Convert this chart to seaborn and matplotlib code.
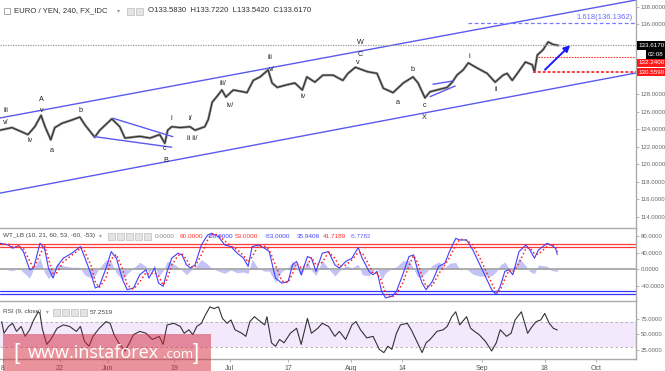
# EUR/JPY 4h chart with wave counts, WT_LB oscillator and RSI

import numpy as np
import pandas as pd
import seaborn as sns
import matplotlib.pyplot as plt
from matplotlib.patches import Rectangle
from matplotlib.ticker import FormatStrFormatter
import matplotlib.transforms as mtrans

# x is counted in trading days from 8 May
price_x = [-0.5, 1.6, 3.0, 4.4, 5.6, 6.7, 7.4, 8.4, 9.1, 10.4,
           11.8, 13.5, 14.4, 16.1, 17.0, 19.1, 20.5, 21.4, 24.0, 25.8,
           27.5, 28.4, 28.9, 29.6, 31.1, 32.8, 33.7, 35.4, 36.0, 36.7,
           37.7, 38.4, 39.1, 40.4, 42.1, 42.8, 43.9, 45.1, 46.5, 47.2,
           48.1, 49.8, 51.2, 52.5, 53.3, 54.7, 56.1, 57.9, 59.6, 60.5,
           61.8, 63.9, 65.6, 66.7, 67.4, 68.4, 70.2, 71.9, 72.8, 74.0,
           74.9, 76.1, 77.9, 78.8, 79.6, 80.7, 81.6, 83.2, 84.9, 86.3,
           87.7, 88.4, 89.3, 90.2, 91.6, 92.8, 93.2, 93.7, 94.7, 95.6,
           96.5, 97.4]
price = [123.9, 124.2, 123.8, 123.4, 124.3, 125.6, 124.3, 122.8, 124.2, 124.7,
         125.0, 125.4, 124.5, 123.1, 123.9, 125.2, 124.3, 123.0, 123.2, 123.0,
         123.4, 122.4, 123.9, 124.3, 124.2, 124.3, 123.9, 124.3, 125.1, 127.1,
         127.9, 128.5, 127.7, 128.5, 128.3, 128.2, 129.6, 130.0, 130.8, 129.3,
         128.8, 129.1, 129.3, 128.5, 130.0, 129.4, 130.2, 130.2, 129.6, 130.4,
         131.1, 130.6, 130.4, 128.7, 128.5, 128.2, 129.3, 130.0, 129.3, 127.6,
         128.3, 128.5, 128.8, 129.4, 130.2, 130.8, 131.6, 131.0, 130.4, 129.4,
         130.2, 130.4, 129.6, 130.4, 131.7, 131.4, 130.6, 132.5, 133.1, 134.0,
         133.7, 133.6]

wt_x = [-0.5, 1.0, 1.7, 2.8, 3.6, 4.7, 5.4, 6.5, 7.3, 8.0,
        8.8, 9.5, 10.6, 12.1, 13.2, 13.6, 14.3, 15.5, 16.2, 16.9,
        18.1, 19.0, 19.9, 21.0, 21.8, 22.9, 24.0, 25.1, 25.6, 26.6,
        27.3, 28.1, 28.8, 29.6, 30.7, 31.4, 32.2, 32.9, 33.7, 34.8,
        35.9, 36.6, 37.8, 38.9, 40.0, 41.1, 42.2, 43.0, 43.7, 44.8,
        45.9, 46.7, 47.8, 48.9, 50.0, 50.8, 51.5, 52.3, 53.4, 54.1,
        54.9, 56.0, 57.1, 58.2, 59.0, 60.1, 61.2, 62.3, 63.0, 64.2,
        64.9, 65.6, 66.4, 67.1, 68.2, 69.0, 70.1, 71.2, 72.0, 72.7,
        73.5, 74.2, 75.3, 76.4, 77.5, 78.3, 79.4, 80.1, 81.3, 82.4,
        83.5, 84.6, 85.7, 86.5, 87.2, 88.0, 88.7, 89.4, 90.5, 91.7,
        92.4, 93.2, 93.9, 95.4, 96.1, 96.9, 97.2]
wt1 = [62.5, 58.5, 50.6, 57.0, 42.6, -1.0, 3.0, 62.5, 50.6, 3.0,
       -21.0, 7.0, 26.7, 38.7, 50.6, 54.5, 30.7, -13.0, -44.8, -40.8,
       3.0, 42.6, 26.7, -25.0, -48.8, -44.8, -13.0, -1.0, -21.0, 3.0,
       -33.0, -40.8, -5.0, 26.7, 38.7, 34.7, 10.8, 3.0, 10.8, 58.5,
       82.4, 86.4, 78.4, 58.5, 54.5, 38.7, 26.7, 7.0, 54.5, 58.5,
       50.6, 42.6, -21.0, -33.0, -29.0, 10.8, 18.8, -13.0, 30.7, 26.7,
       -5.0, 38.7, 42.6, 10.8, 3.0, 18.8, 26.7, 52.2, 26.7, -5.0,
       -13.0, -5.0, -52.7, -68.6, -64.6, -52.7, -13.0, 30.7, 34.7, -1.0,
       -33.0, -48.8, -29.0, 7.0, 14.8, 42.6, 74.4, 70.5, 70.5, 46.6,
       14.8, -17.0, -48.8, -60.7, -40.8, -5.0, -1.0, -13.0, 42.6, 58.5,
       46.6, 26.7, 46.6, 62.5, 58.5, 50.6, 35.9]
wt2 = [60, 60, 54, 54, 50, 20, 2, 35, 58, 25,
       -10, -8, 18, 34, 45, 52, 44, 8, -30, -44,
       -20, 25, 36, 0, -38, -48, -30, -8, -12, -8,
       -16, -38, -24, 10, 33, 37, 24, 6, 6, 35,
       70, 84, 83, 68, 56, 47, 33, 17, 30, 57,
       55, 47, 10, -28, -32, -10, 15, 3, 10, 29,
       10, 17, 41, 27, 7, 10, 23, 40, 40, 10,
       -9, -9, -28, -60, -67, -59, -33, 9, 33, 17,
       -17, -41, -39, -11, 11, 28, 58, 72, 70, 58,
       31, -1, -33, -55, -51, -23, -3, -7, 15, 50,
       52, 37, 36, 55, 61, 55, 41.7]

rsi_x = [-0.2, 0.2, 1.0, 1.7, 2.4, 3.2, 3.9, 4.7, 5.4, 6.2,
         6.5, 6.9, 7.7, 8.4, 9.5, 10.6, 11.7, 12.9, 13.6, 14.3,
         15.1, 15.8, 16.9, 18.1, 18.8, 19.5, 20.3, 21.4, 22.2, 22.9,
         24.0, 25.1, 26.2, 27.4, 28.1, 28.8, 30.0, 31.1, 31.8, 32.6,
         33.3, 34.0, 34.8, 35.5, 36.3, 37.0, 37.8, 38.5, 39.3, 40.0,
         40.7, 41.9, 42.6, 43.3, 44.1, 44.8, 45.9, 46.3, 47.1, 47.8,
         48.5, 49.3, 50.4, 51.5, 52.3, 53.4, 54.1, 55.2, 56.0, 57.1,
         58.2, 59.0, 60.1, 61.2, 61.9, 62.7, 63.8, 64.9, 66.0, 66.8,
         67.5, 68.2, 69.0, 69.7, 70.9, 71.6, 72.7, 73.5, 74.2, 74.9,
         76.1, 77.2, 77.9, 78.7, 79.4, 80.1, 81.3, 82.0, 82.7, 83.5,
         84.6, 85.7, 86.5, 87.2, 88.3, 89.1, 89.8, 90.9, 92.0, 92.8,
         93.5, 94.3, 95.0, 95.8, 96.5, 97.2]
rsi = [70.8, 52, 63, 68, 55, 63, 47, 57.6, 73.4, 86.6,
       84, 60, 34, 42, 60, 65.5, 63, 55, 63, 39,
       31, 47, 60, 70.8, 68, 49.7, 36.6, 23.4, 36.6, 49.7,
       55, 52, 42, 47, 34, 65.5, 68, 63, 52, 57.6,
       49.7, 63, 68, 81.3, 94.5, 91.8, 94.5, 76, 68, 73.4,
       57.6, 52, 47, 70.8, 78.7, 73.4, 65.5, 78.7, 36.6, 31,
       42, 36.6, 52, 60, 34, 76, 52, 60, 68, 63,
       47, 55, 42, 65.5, 70.8, 57.6, 44.5, 47, 26, 20.8,
       31, 26, 52, 65.5, 68, 57.6, 36.6, 20.8, 36.6, 42,
       55, 57.6, 63, 78.7, 86.6, 65.5, 78.7, 60, 55, 49.7,
       39, 23.4, 36.6, 57.6, 47, 52, 73.4, 86.6, 52, 63,
       70.8, 73.4, 84, 68, 60, 57.3]

date_ticks = [0, 10, 18.4, 30, 39.8, 50, 61, 70, 84, 95, 104]
date_labels = ['8', '22', 'Jun', '19', 'Jul', '17', 'Aug', '14', 'Sep', '18', 'Oct']

# drawn trendlines (start/end points)
chan_x = [-0.5, 111.0]
chan_upper = [125.3, 138.8]
chan_lower = [116.7, 130.45]
wedge_top_x, wedge_top = [19.3, 29.8], [125.27, 123.16]
wedge_bot_x, wedge_bot = [16.1, 29.6], [123.16, 121.95]
tri_top_x, tri_top = [75.4, 78.9], [129.16, 129.53]
tri_bot_x, tri_bot = [74.9, 79.3], [127.74, 128.96]
last_price = 133.617
fib_level = 136.1362
support_1 = 132.24
support_2 = 130.559

wave_labels = [("iii", 0.5, 126.2), ("v/", 0.5, 124.8), ("iv", 4.7, 122.7),
               ("A", 6.8, 127.4), ("v", 6.8, 126.2), ("a", 8.6, 121.6),
               ("b", 13.7, 126.1), ("i", 29.5, 125.2), ("i/", 32.8, 125.2),
               ("ii ii/", 33.2, 123.0), ("c", 28.4, 121.8), ("B", 28.6, 120.4),
               ("iii/", 38.6, 129.3), ("iv/", 39.8, 126.7), ("iii", 46.8, 132.2),
               ("v/", 47.2, 130.9), ("iv", 52.6, 127.8), ("W", 62.6, 133.9),
               ("C", 62.6, 132.6), ("v", 62.3, 131.7), ("a", 69.3, 127.1),
               ("b", 71.9, 130.8), ("c", 73.9, 126.7), ("X", 73.9, 125.4),
               ("i", 81.8, 132.3), ("ii", 86.5, 128.6)]

sns.set_style("white")
plt.rcParams['font.family'] = ['Liberation Sans', 'DejaVu Sans']

W, H = 665, 371
fig = plt.figure(figsize=(W / 100, H / 100), dpi=100)
right = 636 / W
ax_p = fig.add_axes([0, 143 / H, right, 228 / H])
ax_w = fig.add_axes([0, 70 / H, right, 73 / H], sharex=ax_p)
ax_r = fig.add_axes([0, 12 / H, right, 58 / H], sharex=ax_p)

blue = '#5a5af0'
red = '#ff3b3b'

# price panel
sns.lineplot(x=price_x, y=price, ax=ax_p, color='#8c8c8c', lw=1.8)
sns.lineplot(x=price_x, y=price, ax=ax_p, color='#2a2a2a', lw=0.7)
for xs, ys in [(chan_x, chan_upper), (chan_x, chan_lower), (wedge_top_x, wedge_top),
               (wedge_bot_x, wedge_bot), (tri_top_x, tri_top), (tri_bot_x, tri_bot)]:
    ax_p.plot(xs, ys, color=blue, lw=1.0)
ax_p.axhline(last_price, color='#999999', lw=0.9, ls=(0, (1, 1)))
ax_p.plot([81.6, 111], [fib_level, fib_level], color='#7777ff', lw=0.9, ls=(0, (3, 2)))
ax_p.text(110.4, fib_level + 0.25, '1.618(136.1362)', color='#6b6bff', fontsize=5.5,
          ha='right', va='bottom')
ax_p.plot([93.8, 111], [support_1, support_1], color=red, lw=0.8, ls=(0, (1.5, 1)))
ax_p.plot([93.0, 111], [support_2, support_2], color=red, lw=1.4, ls=(0, (1.5, 1)))
ax_p.annotate('', xy=(99.8, 133.85), xytext=(94.7, 130.6),
              arrowprops=dict(arrowstyle='-|>', color='#1a1aff', lw=1.4, mutation_scale=9))
for txt, x, y in wave_labels:
    ax_p.text(x, y, txt, fontsize=5.2, ha='center', va='center', color='#222222')

ax_p.set_ylim(112.71, 138.8)
ax_p.set_yticks([114, 116, 118, 120, 122, 124, 126, 128, 136, 138])
ax_p.yaxis.set_major_formatter(FormatStrFormatter('%.4f'))

# right axis price boxes
btr = mtrans.blended_transform_factory(ax_p.transAxes, ax_p.transData)
for txt, y, fc, xo in [('133.6170', 133.617, 'black', 1.004), ('02:08', 132.58, 'black', 1.018),
                       ('132.2400', 131.6, '#ff1a1a', 1.004), ('130.5590', 130.56, '#ff1a1a', 1.004)]:
    ax_p.text(xo, y, txt, transform=btr, fontsize=4.5, color='white', ha='left', va='center',
              bbox=dict(facecolor=fc, edgecolor='none', pad=1.3))

# WT_LB panel
hist = np.array(wt1) - np.array(wt2)
ax_w.fill_between(wt_x, 0, hist, color='#aaaaf5', alpha=0.7, lw=0)
ax_w.axhline(0, color='#a0a0a0', lw=1.2)
for lev in [60, 53]:
    ax_w.axhline(lev, color=red, lw=0.9)
for lev in [-53, -60]:
    ax_w.axhline(lev, color='#3535ff', lw=0.9)
sns.lineplot(x=wt_x, y=wt1, ax=ax_w, color='#4040ff', lw=0.8)
sns.lineplot(x=wt_x, y=wt2, ax=ax_w, color='#ff2020', lw=1.1, ls=':')
ax_w.set_ylim(-76, 99.2)
ax_w.set_yticks([-40, 0, 40, 80])
ax_w.yaxis.set_major_formatter(FormatStrFormatter('%.4f'))

# RSI panel
ax_r.axhspan(30, 70, color='#f4e8fd', lw=0)
for lev in [70, 30]:
    ax_r.axhline(lev, color='#aaaaaa', lw=0.6, ls=(0, (3, 3)))
sns.lineplot(x=rsi_x, y=rsi, ax=ax_r, color='#333333', lw=0.8)
ax_r.set_ylim(10.5, 104)
ax_r.set_yticks([25, 50, 75])
ax_r.yaxis.set_major_formatter(FormatStrFormatter('%.4f'))

ax_r.set_xlim(-0.5, 111)
ax_r.set_xticks(date_ticks)
ax_r.set_xticklabels(date_labels)

for ax in [ax_p, ax_w, ax_r]:
    ax.set_xlabel('')
    ax.set_ylabel('')
    ax.yaxis.tick_right()
    ax.tick_params(axis='y', labelsize=4.3, labelcolor='#666666', length=2, pad=1.5,
                   color='#999999', width=0.5, right=True, left=False)
    ax.tick_params(axis='x', labelsize=5, labelcolor='#555555', length=2, pad=2,
                   color='#999999', width=0.5, bottom=True)
    for s in ['top', 'left']:
        ax.spines[s].set_visible(False)
    for s in ['right', 'bottom']:
        ax.spines[s].set_color('#aaaaaa')
        ax.spines[s].set_linewidth(1.0)
    ax.set_facecolor('none')
for ax in [ax_p, ax_w]:
    ax.tick_params(axis='x', labelbottom=False, bottom=False)

# header texts
def icon(x, y):
    fig.patches.append(Rectangle((x / W, 1 - (y + 3.5) / H), 7 / W, 7 / H, transform=fig.transFigure,
                                 facecolor='#e4e4e4', edgecolor='#bdbdbd', lw=0.5))

fig.patches.append(Rectangle((4 / W, 1 - 14 / H), 6 / W, 6 / H, transform=fig.transFigure,
                             facecolor='white', edgecolor='#888888', lw=0.5))
fig.text(14 / W, 1 - 11 / H, 'EURO / YEN, 240, FX_IDC', fontsize=5.6, color='#333333', va='center')
fig.text(117 / W, 1 - 11 / H, '▾', fontsize=4.5, color='#999999', va='center')
icon(127, 11)
icon(136, 11)
fig.text(148 / W, 1 - 11 / H, 'O133.5830  H133.7220  L133.5420  C133.6170', fontsize=5.6,
         color='#333333', va='center')

fig.text(3 / W, 1 - 236 / H, 'WT_LB (10, 21, 60, 53, -60, -53)', fontsize=4.6, color='#444444', va='center')
fig.text(99 / W, 1 - 236 / H, '▾', fontsize=4, color='#999999', va='center')
for xi in [108, 117, 126, 135, 144]:
    icon(xi, 236)
for txt, xi, c in [('0.0000', 155, '#888888'), ('60.0000', 180, '#ff3030'), ('-60.0000', 208, '#4040ff'),
                   ('53.0000', 235, '#ff3030'), ('-53.0000', 265, '#4040ff'), ('35.9406', 297, '#4040ff'),
                   ('41.7189', 323, '#ff3030'), ('-5.7782', 350, '#6060ff')]:
    fig.text(xi / W, 1 - 236 / H, txt, fontsize=4.6, color=c, va='center')

fig.text(3 / W, 1 - 312 / H, 'RSI (9, close)', fontsize=4.6, color='#444444', va='center')
fig.text(46 / W, 1 - 312 / H, '▾', fontsize=4, color='#999999', va='center')
for xi in [53, 62, 71, 80]:
    icon(xi, 312)
fig.text(90 / W, 1 - 312 / H, '57.2519', fontsize=4.6, color='#444444', va='center')

# watermark
fig.patches.append(Rectangle((3 / W, 0), 208 / W, 37 / H, transform=fig.transFigure,
                             facecolor='#d42a3c', alpha=0.5, lw=0, zorder=10))
fig.text(13 / W, 1 - 354 / H, '[', fontsize=16, color='white', va='center', zorder=11, fontweight='light')
fig.text(28 / W, 1 - 353 / H, 'www.instaforex', fontsize=13, color='white', va='center', zorder=11,
         family='Open Sans')
fig.text(163 / W, 1 - 355 / H, '.com', fontsize=9.5, color='white', va='center', zorder=11,
         family='Open Sans')
fig.text(193 / W, 1 - 354 / H, ']', fontsize=16, color='white', va='center', zorder=11, fontweight='light')

fig.savefig('out.png', dpi=100)
